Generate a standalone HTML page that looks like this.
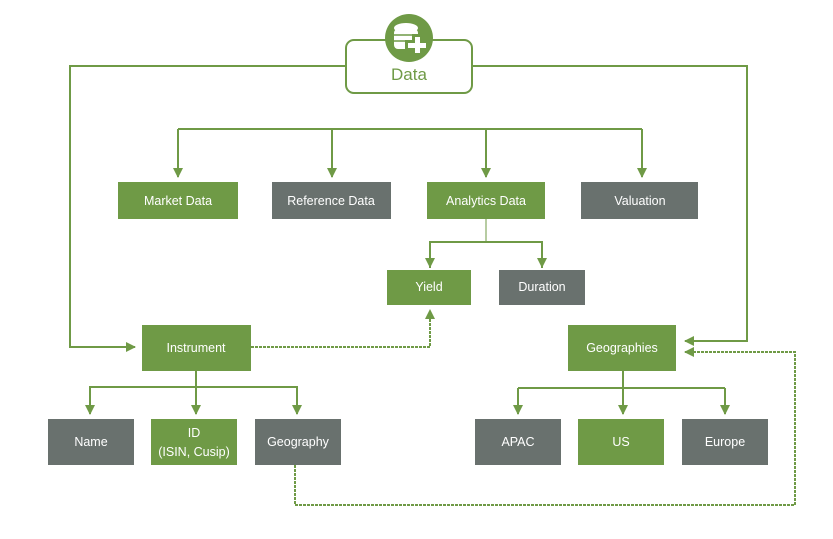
<!DOCTYPE html>
<html><head><style>body{margin:0;background:#fff}text{font-family:"Gill Sans","Liberation Sans",sans-serif;}</style></head>
<body>
<svg width="833" height="534" viewBox="0 0 833 534" xmlns="http://www.w3.org/2000/svg">
<defs><marker id="a" viewBox="0 0 10 10" refX="9" refY="5" markerWidth="5" markerHeight="5" orient="auto"><path d="M0,0L10,5L0,10z" fill="#6f9a46"/></marker></defs>
<g fill="none" stroke="#6f9a46" stroke-width="2">
<path d="M346,66H70V347H135" marker-end="url(#a)"/>
<path d="M472,66H747V341H685" marker-end="url(#a)"/>
<path d="M178,129H642"/>
<path d="M178,129V177" marker-end="url(#a)"/><path d="M332,129V177" marker-end="url(#a)"/>
<path d="M486,129V177" marker-end="url(#a)"/><path d="M642,129V177" marker-end="url(#a)"/>
<path d="M486,219V242" stroke-width="1"/><path d="M430,268V242H542V268" /><path d="M430,242V267" marker-end="url(#a)"/><path d="M542,242V267" marker-end="url(#a)"/>
<path d="M251,347H430V310" stroke-dasharray="3,1" marker-end="url(#a)"/>
<path d="M196,371V387"/><path d="M90,414V387H297V414"/>
<path d="M90,387V414" marker-end="url(#a)"/><path d="M196,387V414" marker-end="url(#a)"/><path d="M297,387V414" marker-end="url(#a)"/>
<path d="M295,465V505H795V352H685" stroke-dasharray="3,1" marker-end="url(#a)"/>
<path d="M623,371V388"/><path d="M518,388H725"/>
<path d="M518,388V414" marker-end="url(#a)"/><path d="M623,388V414" marker-end="url(#a)"/><path d="M725,388V414" marker-end="url(#a)"/>
</g>
<rect x="346" y="40" width="126" height="53" rx="8" fill="#fff" stroke="#6f9a46" stroke-width="2"/>
<circle cx="409" cy="38" r="24" fill="#6f9a46"/>
<g fill="#fff"><ellipse cx="406" cy="28" rx="12" ry="5"/><rect x="394" y="29" width="24" height="20" rx="4"/></g>
<g stroke="#6f9a46" stroke-width="1.5"><path d="M394,35H418M394,41H418"/></g>
<g fill="#6f9a46"><rect x="412" y="34" width="11" height="22"/><rect x="405" y="40" width="24" height="11"/></g>
<g fill="#fff"><rect x="415" y="37" width="5" height="16"/><rect x="408" y="43" width="18" height="5"/></g>
<text x="409" y="80" font-size="17" fill="#6f9a46" text-anchor="middle">Data</text>
<g font-size="12.5" fill="#fff" text-anchor="middle">
<rect x="118" y="182" width="120" height="37" fill="#6f9a46"/><text x="178" y="205">Market Data</text>
<rect x="272" y="182" width="119" height="37" fill="#69716e"/><text x="331" y="205">Reference Data</text>
<rect x="427" y="182" width="118" height="37" fill="#6f9a46"/><text x="486" y="205">Analytics Data</text>
<rect x="581" y="182" width="117" height="37" fill="#69716e"/><text x="640" y="205">Valuation</text>
<rect x="387" y="270" width="84" height="35" fill="#6f9a46"/><text x="429" y="291">Yield</text>
<rect x="499" y="270" width="86" height="35" fill="#69716e"/><text x="542" y="291">Duration</text>
<rect x="142" y="325" width="109" height="46" fill="#6f9a46"/><text x="196" y="352">Instrument</text>
<rect x="568" y="325" width="108" height="46" fill="#6f9a46"/><text x="622" y="352">Geographies</text>
<rect x="48" y="419" width="86" height="46" fill="#69716e"/><text x="91" y="446">Name</text>
<rect x="151" y="419" width="86" height="46" fill="#6f9a46"/><text x="194" y="437">ID</text><text x="194" y="456">(ISIN, Cusip)</text>
<rect x="255" y="419" width="86" height="46" fill="#69716e"/><text x="298" y="446">Geography</text>
<rect x="475" y="419" width="86" height="46" fill="#69716e"/><text x="518" y="446">APAC</text>
<rect x="578" y="419" width="86" height="46" fill="#6f9a46"/><text x="621" y="446">US</text>
<rect x="682" y="419" width="86" height="46" fill="#69716e"/><text x="725" y="446">Europe</text>
</g>
</svg>
</body></html>
